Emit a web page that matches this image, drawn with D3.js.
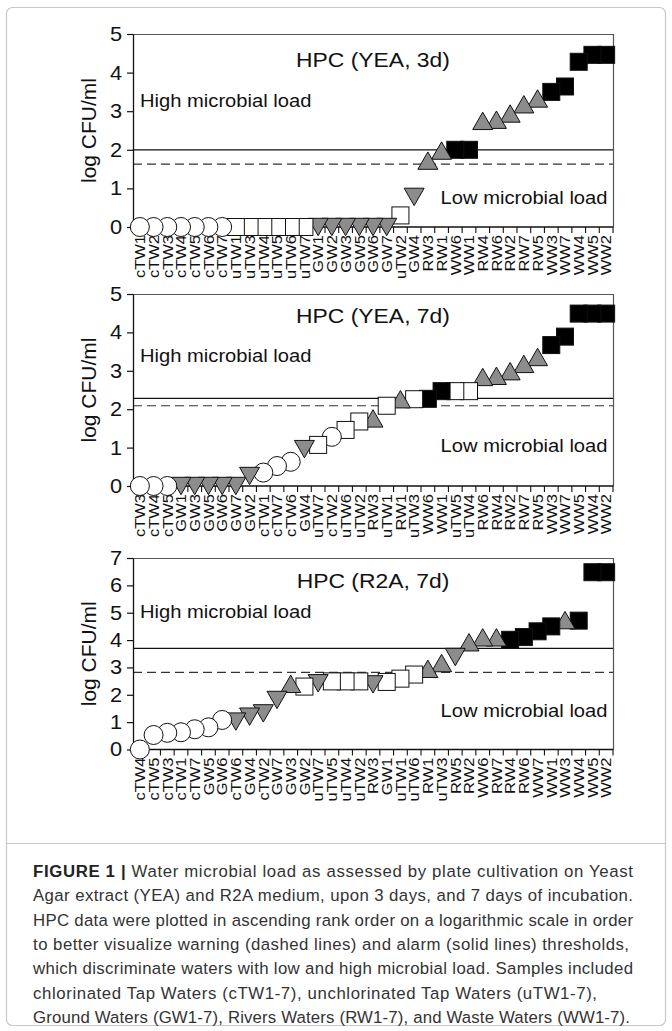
<!DOCTYPE html>
<html><head><meta charset="utf-8">
<script src="https://cdn.jsdelivr.net/npm/d3@7"></script>
<style>body{margin:0;background:#fff}svg{display:block}</style>
</head><body>
<script>
// ---------- data ----------
const cats1 = ["cTW1","cTW2","cTW3","cTW4","cTW5","cTW6","cTW7","uTW1","uTW3","uTW4","uTW5","uTW6","uTW7","GW1","GW2","GW3","GW5","GW6","GW7","uTW2","GW4","RW3","RW1","WW6","WW1","RW4","RW6","RW2","RW7","RW5","WW3","WW7","WW4","WW5","WW2"];
const vals1 = [0,0,0,0,0,0,0, 0,0,0,0,0,0, 0,0,0,0,0,0, 0.3,0.78,1.72,1.98,2.0,2.0,2.75,2.78,2.94,3.18,3.33,3.5,3.64,4.28,4.46,4.46];

const cats2 = ["cTW3","cTW4","cTW5","GW1","GW3","GW5","GW6","GW7","GW2","cTW1","cTW7","cTW6","GW4","uTW7","cTW2","uTW6","uTW2","RW3","uTW1","RW1","uTW3","WW6","WW1","uTW5","uTW4","RW6","RW4","RW2","RW7","RW5","WW3","WW7","WW5","WW4","WW2"];
const vals2 = [0,0,0, 0,0,0,0,0, 0.26,0.35,0.52,0.63,0.96,1.07,1.28,1.46,1.68,1.76,2.09,2.26,2.26,2.27,2.47,2.47,2.47,2.84,2.87,2.99,3.18,3.36,3.67,3.89,4.49,4.49,4.49];

const cats3 = ["cTW4","cTW5","cTW3","cTW1","cTW7","GW5","GW6","cTW6","GW4","cTW2","GW7","GW3","GW2","uTW7","uTW5","uTW4","uTW2","RW3","GW1","uTW1","uTW6","RW1","uTW3","RW5","RW2","WW6","RW7","RW4","RW6","WW7","WW1","WW3","WW4","WW5","WW2"];
const vals3 = [0,0.53,0.61,0.63,0.74,0.81,1.08,1.02,1.2,1.32,1.81,2.4,2.3,2.42,2.49,2.49,2.49,2.38,2.47,2.59,2.74,2.95,3.16,3.38,3.92,4.1,4.1,4.01,4.11,4.32,4.5,4.73,4.71,6.48,6.48];
// marker group as drawn in panel 3 (c = cTW, u = uTW, G = GW, R = RW, W = WW)
const marks3 = ["c","c","c","c","c","c","c","G","G","G","G","R","u","G","u","u","u","G","u","u","u","R","R","G","R","R","R","W","W","W","W","R","W","W","W"];

const titles = ["HPC (YEA, 3d)","HPC (YEA, 7d)","HPC (R2A, 7d)"];
const alarm = [2.0, 2.28, 3.7];     // solid lines
const warning = [1.63, 2.09, 2.82]; // dashed lines
const yTicks12 = [0,1,2,3,4,5];
const yTicks3 = [0,1,2,3,4,5,6,7];
const yTitle = "log CFU/ml";
const highLabel = "High microbial load";
const lowLabel = "Low microbial load";
const captionLines = [
  "Water microbial load as assessed by plate cultivation on Yeast",
  "Agar extract (YEA) and R2A medium, upon 3 days, and 7 days of incubation.",
  "HPC data were plotted in ascending rank order on a logarithmic scale in order",
  "to better visualize warning (dashed lines) and alarm (solid lines) thresholds,",
  "which discriminate waters with low and high microbial load. Samples included",
  "chlorinated Tap Waters (cTW1-7), unchlorinated Tap Waters (uTW1-7),",
  "Ground Waters (GW1-7), Rivers Waters (RW1-7), and Waste Waters (WW1-7)."
];

// ---------- drawing ----------
const W = 672, H = 1031;
const FONT = "'Liberation Sans', Arial, Helvetica, sans-serif";
const SX = 1.09; // horizontal stretch of the original raster
const svg = d3.select("body").append("svg").attr("width", W).attr("height", H)
  .style("font-family", FONT);

svg.append("rect").attr("x", 6.5).attr("y", 7.5).attr("width", 659).attr("height", 1018)
  .attr("rx", 6).attr("fill", "#fff").attr("stroke", "#c8c8c8").attr("stroke-width", 1.2);
svg.append("line").attr("x1", 6.5).attr("x2", 665.5).attr("y1", 843.5).attr("y2", 843.5)
  .attr("stroke", "#c8c8c8").attr("stroke-width", 1.2);

const prefix = l => l.startsWith("c") ? "c" : l.startsWith("u") ? "u" : l[0];
const panels = [
  {cats: cats1, vals: vals1, marks: cats1.map(prefix), top: 34, bottom: 227, max: 5, ticks: yTicks12, ty: 66.7, hy: 106.7, ly: 204},
  {cats: cats2, vals: vals2, marks: cats2.map(prefix), top: 294, bottom: 486, max: 5, ticks: yTicks12, ty: 323.3, hy: 361.7, ly: 451.7},
  {cats: cats3, vals: vals3, marks: marks3, top: 558, bottom: 749.5, max: 7, ticks: yTicks3, ty: 588.3, hy: 618.3, ly: 716.7}
];
const X0 = 133, X1 = 613;
const GRAY = "#8c8c8c";

function drawMarker(g, type, cx, cy) {
  let el;
  if (type === "c") {
    el = g.append("circle").attr("cx", cx).attr("cy", cy).attr("r", 9.5).attr("fill", "#fff");
  } else if (type === "u" || type === "W") {
    el = g.append("rect").attr("x", cx - 8.5).attr("y", cy - 8.5).attr("width", 17).attr("height", 17)
      .attr("fill", type === "u" ? "#fff" : "#000");
  } else if (type === "R") {
    el = g.append("path").attr("d", `M${cx},${cy - 8.7}L${cx + 10},${cy + 8.7}L${cx - 10},${cy + 8.7}Z`).attr("fill", GRAY);
  } else {
    el = g.append("path").attr("d", `M${cx},${cy + 8.7}L${cx + 10},${cy - 8.7}L${cx - 10},${cy - 8.7}Z`).attr("fill", GRAY);
  }
  el.attr("stroke", "#111").attr("stroke-width", 1);
}

panels.forEach((p, pi) => {
  const g = svg.append("g");
  const x = d3.scaleBand().domain(p.cats).range([X0, X1]).padding(0);
  const y = d3.scaleLinear().domain([0, p.max]).range([p.bottom, p.top]);

  // frame (top/right)
  g.append("path").attr("d", `M${X0},${y(p.max) + 0.5}H${X1 + 0.5}V${y(0)}`)
    .attr("fill", "none").attr("stroke", "#555").attr("stroke-width", 1.2);

  // threshold lines
  g.append("line").attr("x1", X0).attr("x2", X1).attr("y1", y(alarm[pi])).attr("y2", y(alarm[pi]))
    .attr("stroke", "#111").attr("stroke-width", 1.2);
  g.append("line").attr("x1", X0).attr("x2", X1).attr("y1", y(warning[pi])).attr("y2", y(warning[pi]))
    .attr("stroke", "#333").attr("stroke-width", 1.2).attr("stroke-dasharray", "9,5");

  // y axis
  const ya = g.append("g").attr("transform", `translate(${X0},0)`)
    .call(d3.axisLeft(y).tickValues(p.ticks).tickSize(6).tickSizeOuter(0).tickPadding(5).tickFormat(d3.format("d")));
  ya.select(".domain").attr("stroke", "#111").attr("stroke-width", 1.3);
  ya.selectAll(".tick line").attr("stroke", "#111").attr("stroke-width", 1.2);
  ya.selectAll(".tick text").attr("font-size", 20).attr("font-family", FONT).attr("fill", "#111")
    .attr("transform", `scale(${SX},1)`).attr("x", -11 / SX);

  // x axis line and boundary ticks
  const y0 = y(0);
  g.append("line").attr("x1", X0).attr("x2", X1 + 0.5).attr("y1", y0).attr("y2", y0)
    .attr("stroke", "#111").attr("stroke-width", 1.3);
  const bounds = p.cats.map(c => x(c)).concat([x(p.cats[p.cats.length - 1]) + x.bandwidth()]);
  g.selectAll("line.xt").data(bounds).join("line").attr("class", "xt")
    .attr("x1", d => d).attr("x2", d => d).attr("y1", y0).attr("y2", y0 + 6)
    .attr("stroke", "#111").attr("stroke-width", 1.1);
  g.selectAll("text.xl").data(p.cats).join("text").attr("class", "xl")
    .attr("transform", d => `translate(${x(d) + x.bandwidth() / 2},${y0 + 8}) rotate(-90) scale(1.14,1)`)
    .attr("text-anchor", "end").attr("dy", "0.36em").attr("font-size", 14.5)
    .attr("fill", "#111").text(d => d);

  // markers (earlier points on top => draw in reverse)
  const mg = g.append("g");
  d3.range(p.cats.length).reverse().forEach(i => {
    drawMarker(mg, p.marks[i], x(p.cats[i]) + x.bandwidth() / 2, y(p.vals[i]));
  });

  // texts
  const stretchText = (tx, ty, str, size, anchor) =>
    g.append("text").attr("transform", `translate(${tx},${ty}) scale(${SX},1)`)
      .attr("text-anchor", anchor).attr("font-size", size).attr("fill", "#111").text(str);
  stretchText((X0 + X1) / 2, p.ty, titles[pi], 21, "middle");
  stretchText(140, p.hy, highLabel, 18.5, "start");
  stretchText(607.5, p.ly, lowLabel, 18.5, "end");

  // y title
  g.append("text").attr("transform", `translate(96,${(p.top + p.bottom) / 2}) rotate(-90)`)
    .attr("text-anchor", "middle").attr("font-size", 21).attr("fill", "#111").text(yTitle);
});

// caption
const capWidths = [600, 600, 600, 596, 600, 564, 597];
const cap = svg.append("g").attr("font-size", 16.8).attr("fill", "#333");
captionLines.forEach((line, i) => {
  const t = cap.append("text").attr("x", 33).attr("y", 877 + i * 24.3);
  if (i === 0) {
    t.append("tspan").attr("font-weight", "bold").attr("fill", "#222").text("FIGURE 1 | ");
  }
  t.append("tspan").text(line);
  t.attr("textLength", capWidths[i]).attr("lengthAdjust", "spacing");
});
</script>
</body></html>
